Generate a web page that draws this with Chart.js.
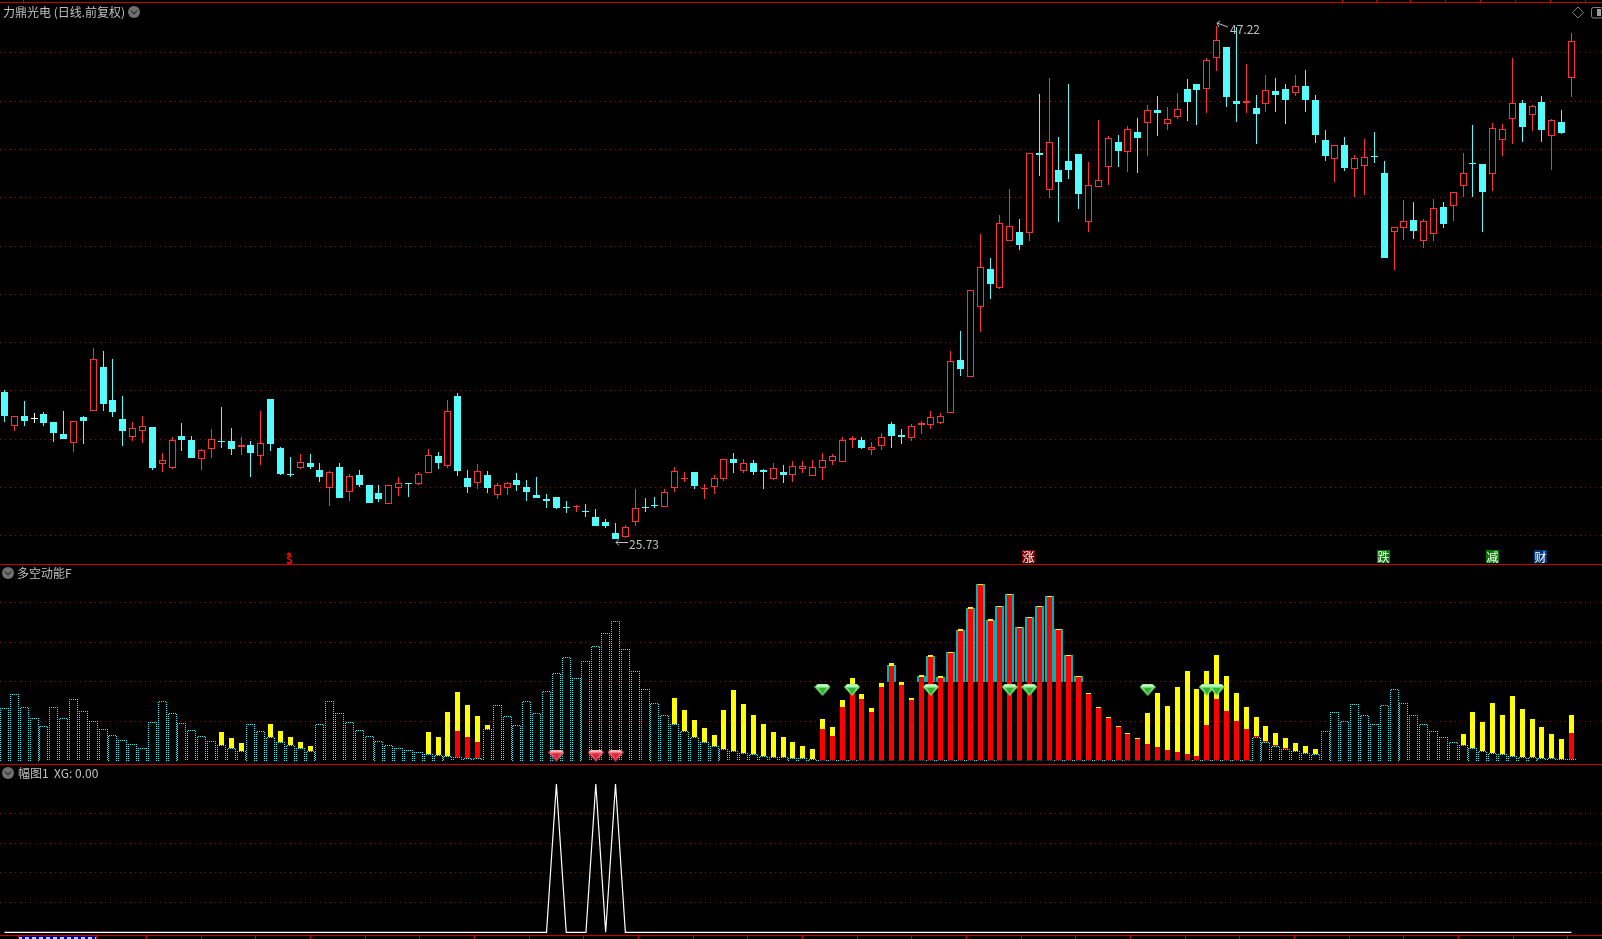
<!DOCTYPE html>
<html><head><meta charset="utf-8">
<script src="https://cdn.jsdelivr.net/npm/chart.js@4"></script>
<style>
html,body{margin:0;padding:0;background:#000;width:1602px;height:939px;overflow:hidden}
canvas{position:absolute;left:0;display:block}
.t{position:absolute;color:#c0c0c0;font:12px/14px "Noto Sans CJK SC",sans-serif;white-space:pre;z-index:3}
.sep{position:absolute;left:0;width:1602px;height:1px;background:#c80000;z-index:3}
.tick{position:absolute;width:1px;background:#c80000;z-index:3}
.tag{position:absolute;top:550px;width:13px;height:13px;color:#fff;font:12px/13px "Noto Sans CJK SC",sans-serif;text-align:center;z-index:3}
svg{position:absolute;z-index:3;overflow:visible}
</style></head><body>
<canvas id="priceCanvas" width="1602" height="564" style="top:0;width:1602px;height:564px"></canvas>
<canvas id="powerCanvas" width="1602" height="200" style="top:564px;width:1602px;height:200px"></canvas>
<canvas id="xgCanvas" width="1602" height="171" style="top:764px;width:1602px;height:171px"></canvas>
<div class="sep" style="top:2px"></div><div class="sep" style="top:564px"></div><div class="sep" style="top:764px"></div><div class="sep" style="top:935px"></div>

<div class="t" style="left:3px;top:5px">力鼎光电 (日线.前复权)</div>
<svg style="left:128px;top:6px" width="12" height="12"><circle cx="6" cy="6" r="6" fill="#707070"/><path d="M3 4.5L6 8L9 4.5" stroke="#111" fill="none"/></svg>
<div class="t" style="left:17px;top:566px">多空动能F</div>
<svg style="left:2px;top:567px" width="12" height="12"><circle cx="6" cy="6" r="6" fill="#707070"/><path d="M3 4.5L6 8L9 4.5" stroke="#111" fill="none"/></svg>
<div class="t" style="left:18px;top:766px">幅图1  XG: 0.00</div>
<svg style="left:2px;top:767px" width="12" height="12"><circle cx="6" cy="6" r="6" fill="#707070"/><path d="M3 4.5L6 8L9 4.5" stroke="#111" fill="none"/></svg>

<div class="t" style="left:1230px;top:22px">47.22</div>
<svg style="left:0;top:0" width="1" height="1"><path d="M1217 23L1228 27M1217 23L1220 21M1217 23L1219 27" stroke="#c0c0c0" fill="none"/><path d="M616 542.5H628M616 542.5L619 539.5M616 542.5L619 545.5" stroke="#c0c0c0" fill="none"/>
<path d="M1578 7L1583.5 12.5L1578 18L1572.5 12.5Z" stroke="#808080" fill="none"/>
<rect x="1591.5" y="7.5" width="11" height="10.5" rx="2" stroke="#808080" fill="none"/><rect x="1597" y="9" width="4" height="7" fill="#9a9a9a"/>
<path d="M289 552L292 555H286Z" fill="#ff0000"/></svg>
<div class="t" style="left:629px;top:537px">25.73</div>

<div class="tag" style="left:283px;top:552px;color:#f00;font-weight:700;background:none">$</div>
<div class="tag" style="left:1022px;background:#7a0000">涨</div>
<div class="tag" style="left:1377px;background:#007a00">跌</div>
<div class="tag" style="left:1486px;background:#007a00">减</div>
<div class="tag" style="left:1534px;background:#003a78">财</div>

<div style="position:absolute;left:18px;top:936px;width:78px;height:3px;background:repeating-linear-gradient(90deg,#c8c8e8 0 4px,#0000a0 4px 7px);border-top:1px solid #0000a0;box-sizing:border-box;z-index:3"></div>
<div id="ticks"></div>

<script>
const highVals=[31.99,30.90,31.53,31.02,31.07,30.65,31.11,30.69,30.90,33.75,33.63,33.29,31.74,30.65,30.90,30.44,29.34,30.02,30.60,30.06,
29.51,30.35,31.28,30.39,30.02,29.85,31.11,31.61,29.60,29.18,29.30,29.30,28.92,28.59,28.92,28.46,28.63,28.00,28.00,28.00,
28.34,28.08,28.55,29.51,29.39,31.57,31.86,28.63,28.88,28.59,28.08,28.13,28.50,28.21,28.34,27.62,27.50,27.33,27.16,27.20,
26.99,26.57,26.40,26.32,27.83,27.45,27.50,27.83,28.76,28.55,28.55,28.04,28.42,29.09,29.34,29.09,29.05,28.67,28.92,28.84,
29.01,29.01,29.05,29.34,29.30,30.02,30.06,30.02,29.81,30.18,30.65,30.35,30.56,30.69,31.11,31.02,33.63,34.47,36.19,38.54,
37.53,39.34,40.43,39.17,41.94,44.42,45.09,42.62,44.84,41.90,41.57,43.33,42.66,42.70,43.08,43.41,43.96,44.34,43.88,44.46,
45.05,44.84,45.93,47.28,46.40,47.24,45.68,44.38,45.22,45.09,44.84,45.22,45.43,44.38,42.91,42.28,42.62,41.86,42.53,42.83,
41.61,38.84,39.97,39.89,39.17,40.01,39.89,40.31,41.94,43.12,41.48,43.20,43.16,45.93,44.17,43.96,44.34,43.37,43.75,47.00];
const lowVals=[30.65,30.27,30.48,30.60,30.48,29.81,29.93,29.39,29.72,31.11,31.11,30.86,29.64,29.85,29.76,28.63,28.55,28.67,29.43,29.13,
28.63,29.13,29.55,29.26,29.26,28.34,28.84,29.43,28.42,28.34,28.67,28.67,28.13,27.12,27.45,27.33,27.92,27.24,27.29,27.20,
27.54,27.50,28.00,28.50,28.67,28.71,28.38,27.66,27.83,27.66,27.41,27.58,27.75,27.33,27.45,27.03,26.99,26.82,26.87,26.66,
26.28,26.19,25.73,25.77,26.28,26.87,27.03,27.08,27.71,28.13,27.83,27.41,27.62,28.17,28.50,28.50,28.42,27.83,28.21,28.08,
28.13,28.50,28.38,28.21,28.84,28.97,29.55,29.51,29.26,29.47,29.55,29.72,29.85,30.14,30.35,30.56,31.02,32.58,32.54,34.43,
35.81,36.23,38.25,37.87,38.25,40.98,40.05,39.05,40.85,39.59,38.63,40.52,40.60,41.36,41.15,41.10,41.82,42.66,42.91,43.37,
43.29,43.12,43.62,45.39,43.88,43.25,43.62,42.32,43.67,43.67,43.16,44.34,43.67,42.36,41.61,40.73,41.19,40.10,40.18,41.52,
37.53,37.03,38.29,38.33,37.95,38.25,38.79,39.09,40.10,40.10,38.63,40.35,41.82,42.32,42.41,42.87,42.41,41.23,42.74,44.30];
const openVals=[31.91,30.48,30.90,30.77,30.98,30.65,30.14,29.76,30.86,31.11,32.96,31.57,30.77,30.02,30.27,30.44,28.88,28.71,30.06,29.89,
29.09,29.51,29.85,29.85,29.60,29.68,29.22,31.61,29.55,28.46,28.71,28.92,28.63,27.87,28.76,27.71,28.42,28.00,27.66,27.20,
27.87,28.08,28.04,28.50,29.22,28.80,31.74,28.29,28.08,28.42,27.58,27.87,28.21,27.92,27.58,27.41,27.50,27.08,27.06,26.91,
26.66,26.45,25.98,25.82,26.45,27.08,27.16,27.08,27.87,28.25,28.55,27.82,27.92,28.25,29.09,28.59,28.92,28.63,28.25,28.55,
28.42,28.67,28.38,28.71,29.01,28.97,29.89,29.89,29.47,29.64,30.56,30.10,29.97,30.52,30.52,30.60,31.02,33.25,32.54,35.48,
37.07,36.27,38.25,38.63,38.58,41.94,40.39,41.23,41.61,41.90,39.05,40.52,41.36,42.41,41.99,42.83,43.20,43.75,43.16,43.46,
44.63,44.84,44.63,45.93,46.40,44.13,44.04,43.83,44.00,44.55,44.63,44.46,44.76,44.17,42.49,41.69,42.28,41.27,41.40,41.82,
41.10,38.63,38.79,39.13,38.25,38.54,39.68,39.72,40.56,41.52,41.48,41.06,42.49,43.37,44.04,43.54,44.09,42.66,43.25,45.11];
const closeVals=[30.90,30.90,30.69,30.77,30.60,30.18,29.93,30.69,30.69,33.29,31.40,31.07,30.27,30.39,30.48,28.71,29.05,29.89,29.89,29.13,
29.47,29.93,29.82,29.51,29.68,29.34,29.76,29.72,28.46,28.43,28.97,28.76,28.34,28.55,27.45,28.38,28.00,27.24,27.41,28.00,
28.08,28.06,28.46,29.26,28.92,31.11,28.59,27.92,28.59,27.87,28.00,28.08,28.00,27.71,27.45,27.33,27.03,27.05,27.10,26.88,
26.28,26.28,25.73,26.24,27.03,27.05,27.12,27.71,28.59,28.29,27.96,27.87,28.29,29.09,28.92,28.92,28.55,28.56,28.71,28.42,
28.80,28.80,28.76,29.05,29.22,29.89,29.97,29.55,29.60,30.02,30.06,30.02,30.48,30.60,30.86,30.90,33.21,32.87,36.19,37.16,
36.44,39.00,38.88,38.08,41.94,41.86,42.41,40.73,41.23,40.22,40.60,40.81,42.57,42.03,42.95,42.57,43.75,43.62,43.37,43.79,
44.09,44.59,45.85,46.69,44.30,44.00,44.13,43.58,44.59,44.38,44.17,44.76,44.17,42.70,41.82,42.28,41.31,41.73,41.78,41.79,
37.53,38.84,39.09,38.67,39.09,39.63,38.96,40.31,41.10,41.48,40.31,43.01,42.95,44.04,43.04,43.92,42.91,43.33,42.78,46.66];
const priceGridTicks=[46.16,44.10,42.09,40.07,38.02,36.00,33.98,31.97,29.91,27.89,25.88];

const outlineVals=[52.2,66.2,53.2,42.2,34.2,53.2,42.2,61.2,49.2,39.2,
31.2,25.2,20.2,16.2,12.2,38.2,59.2,47.2,37.2,30.2,
24.2,19.2,15.2,12.2,9.2,36.2,29.2,23.2,18.2,15.2,
12.2,9.2,36.2,59.2,47.2,38.2,30.2,24.2,19.2,15.2,
12.2,10.2,8.2,6.5,5.2,4.5,3.5,2.5,2.5,31.5,
55.2,44.5,35.5,59.5,47.5,69.5,87.5,103.5,82.5,99.5,
114.5,127.5,139.5,111.5,89.5,71.5,57.5,45.5,36.5,29.5,
23.5,18.5,14.5,11.5,9.5,7.5,6.5,4.5,3.5,3.5,
2.5,2.5,1.5,1,1,1,1,1,1,1,
1,1,1,1,1,1,1,1,1,1,
1,1,1,1,1,1,1,1,1,1,
1,1,1,1,1,1,1,1,1,1,
1,1,1,1,1,1,1,23.5,18.5,14.5,
11.5,9.5,7.5,6.5,29.5,48.5,39.5,56.5,45.5,36.5,
55.5,71.5,57.5,45.5,36.5,29.5,23.5,18.5,15.5,12.5,
9.5,7.5,6.5,4.5,3.5,3.5,2.5,2.5,1.5,1.5];
const yellowVals=[0,0,0,0,0,0,0,0,0,0,
0,0,0,0,0,0,0,0,0,0,
0,0,28.5,22.5,17.5,0,0,36.5,29.5,23.5,
18.5,14.5,0,0,0,0,0,0,0,0,
0,0,0,28.5,23.5,48.5,68.5,55.5,44.5,35.5,
0,0,0,0,0,0,0,0,0,0,
0,0,0,0,0,0,0,0,62.5,50.5,
40.5,32.5,25.5,50.5,70.5,56.5,45.5,36.5,28.5,23.5,
18.5,14.5,11.5,41.5,33.5,60.5,82.5,66.5,52.5,77.5,
97.5,78.5,62.5,85.5,105.5,84.5,108.5,131.5,153.5,176.5,
141.5,154.5,166.5,133.5,143.5,154.5,164.5,131.5,105.5,84.5,
67.5,53.5,43.5,34.5,27.5,22.5,47.5,67.5,54.5,73.5,
89.5,71.5,89.5,105.5,84.5,67.5,53.5,43.5,34.5,27.5,
22.5,17.5,14.5,11.5,0,0,0,0,0,0,
0,0,0,0,0,0,0,0,26.5,48.5,
38.5,57.5,45.5,64.5,51.5,41.5,33.5,26.5,21.5,45.5];
const redVals=[0,0,0,0,0,0,0,0,0,0,
0,0,0,0,0,0,0,0,0,0,
0,0,0,0,0,0,0,0,0,0,
0,0,0,0,0,0,0,0,0,0,
0,0,0,0,0,0,29.5,23.5,18.5,0,
0,0,0,0,0,0,0,0,0,0,
0,0,0,0,0,0,0,0,0,0,
0,0,0,0,0,0,0,0,0,0,
0,0,0,31.5,24.5,53.5,75.5,61.5,48.5,73.5,
94.5,75.5,60.5,83.5,103.5,82.5,107.5,129.5,151.5,175.5,
139.5,153.5,165.5,132.5,142.5,153.5,163.5,130.5,104.5,83.5,
66.5,52.5,42.5,33.5,26.5,21.5,16.5,13.5,10.5,8.5,
6.5,4.5,35.5,61.5,49.5,39.5,31.5,24.5,19.5,15.5,
12.5,0,0,0,0,0,0,0,0,0,
0,0,0,0,0,0,0,0,0,0,
0,0,0,0,0,0,0,0,0,27.5];
const tealIdx=[90,93,94,95,96,97,98,99,100,101,102,103,104,105,106,107,108,109];
const tealTop=[95.5,84.5,104.5,83.5,108.5,130.5,152.5,176.5,140.5,154.5,166.5,133.5,143.5,154.5,164.5,131.5,105.5,84.5];
const tealBase=79;
const greenGemIdx=[83,86,94,102,104,116,122,123];
const greenGemLevel=70.5;
const redGemIdx=[56,60,62];
const redGemLevel=5;
const powerGridTicks=[158.2,118.2,79.2,39.2];

const xgHits=[56,60,62];
const xgVals=highVals.map((_,i)=>xgHits.includes(i)?1:0);
const xgGridTicks=[0.2,0.4,0.6,0.8];

const X_MIN=-0.4566, X_MAX=162.1;
const UP='#ff3232', DOWN='#54fcfc', DOJI='#ffffff';
const idx=highVals.map((_,i)=>i);
const candleColor=idx.map(i=>closeVals[i]>openVals[i]?UP:closeVals[i]<openVals[i]?DOWN:DOJI);
const bodyFill=idx.map(i=>closeVals[i]>openVals[i]?'#000000':candleColor[i]);

// crisp pixels like the original: snap bars computed by the scales to whole pixels
const snap={id:'snap',beforeDatasetsDraw(c){
  c.getSortedVisibleDatasetMetas().forEach(m=>{
    if(m.type!=='bar')return;
    m.data.forEach(el=>{
      el.x=Math.floor(el.x)+0.5;
      let a=Math.round(el.y),b=Math.round(el.base);
      if(a===b)a=b-1;
      el.y=a;el.base=b;
    });
  });
}};
function axes(min,max,ticks){return{
  x:{type:'linear',display:false,min:X_MIN,max:X_MAX,offset:false},
  y:{type:'linear',min,max,position:'left',
     afterBuildTicks(s){s.ticks=ticks.map(v=>({value:v}));},
     ticks:{display:false},
     grid:{color:'#a00000',lineWidth:1,drawTicks:false},
     border:{display:false,dash:[1,4]}}
};}
const base={responsive:false,animation:false,devicePixelRatio:1,
  layout:{padding:0,autoPadding:false},plugins:{legend:{display:false},tooltip:{enabled:false}},
  elements:{bar:{inflateAmount:0,borderSkipped:false}},events:[]};

new Chart(document.getElementById('priceCanvas'),{type:'bar',plugins:[snap],
 data:{datasets:[
  {label:'实体',order:1,grouped:false,barThickness:7,borderWidth:1,
   data:idx.map(i=>({x:i,y:[openVals[i],closeVals[i]]})),
   backgroundColor:bodyFill,borderColor:candleColor},
  {label:'影线',order:2,grouped:false,barThickness:1,borderWidth:0,
   data:idx.map(i=>({x:i,y:[lowVals[i],highVals[i]]})),
   backgroundColor:candleColor}
 ]},
 options:{...base,scales:axes(24.68,48.37,priceGridTicks)}});

function dottedPattern(ctx){
  const p=document.createElement('canvas');p.width=2;p.height=2;
  const g=p.getContext('2d');g.fillStyle='#000';g.fillRect(0,0,2,2);
  g.fillStyle='#00ffff';g.fillRect(0,0,1,1);g.fillRect(1,1,1,1);
  return ctx.createPattern(p,'repeat');
}
function gem(light,mid,dark){
  const c=document.createElement('canvas');c.width=16;c.height=12;
  const g=c.getContext('2d');
  g.fillStyle=mid;g.beginPath();g.moveTo(3,0);g.lineTo(13,0);g.lineTo(16,3);g.lineTo(8,12);g.lineTo(0,3);g.closePath();g.fill();
  g.fillStyle=light;g.beginPath();g.moveTo(3,0.5);g.lineTo(13,0.5);g.lineTo(15,3);g.lineTo(11,2.5);g.lineTo(5,2.5);g.lineTo(1,3);g.closePath();g.fill();
  g.fillStyle=dark;g.beginPath();g.moveTo(4,4);g.lineTo(12,4);g.lineTo(8,10.5);g.closePath();g.fill();
  return c;
}
const powerCanvas=document.getElementById('powerCanvas');
const pick=(arr)=>idx.filter(i=>arr[i]>0).map(i=>({x:i,y:[0,arr[i]]}));
new Chart(powerCanvas,{type:'bar',plugins:[snap],
 data:{datasets:[
  {type:'scatter',label:'绿钻',order:0,pointStyle:gem('#d6ffd6','#70e070','#35b035'),pointRadius:8,showLine:false,
   data:greenGemIdx.map(i=>({x:i,y:greenGemLevel}))},
  {type:'scatter',label:'红钻',order:0,pointStyle:gem('#ffc8c8','#f05a6a','#d82838'),pointRadius:8,showLine:false,
   data:redGemIdx.map(i=>({x:i,y:redGemLevel}))},
  {label:'空',order:1,grouped:false,barThickness:9,borderWidth:{left:1,right:1,top:1,bottom:0},
   data:idx.map(i=>({x:i,y:[0,outlineVals[i]]})),
   backgroundColor:'#000',borderColor:dottedPattern(powerCanvas.getContext('2d'))},
  {label:'红',order:2,grouped:false,barThickness:5,borderWidth:0,data:pick(redVals),backgroundColor:'#ff0000'},
  {label:'黄',order:3,grouped:false,barThickness:5,borderWidth:0,data:pick(yellowVals),backgroundColor:'#ffff00'},
  {label:'青',order:4,grouped:false,barThickness:9,borderWidth:0,
   data:tealIdx.map((i,k)=>({x:i,y:[tealBase,tealTop[k]]})),backgroundColor:'#00b4b4'}
 ]},
 options:{...base,scales:axes(-3.5,196.5,powerGridTicks)}});

new Chart(document.getElementById('xgCanvas'),{type:'line',
 data:{datasets:[{label:'XG',data:idx.map(i=>({x:i,y:xgVals[i]})),borderColor:'#ffffff',borderWidth:1.2,pointRadius:0,tension:0}]},
 options:{...base,scales:axes(-0.0182,1.1349,xgGridTicks)}});

// small marks on the frame lines
const topMarks=[23,1342,1376,1410,1445,1480,1515,1550,1585];
const bottomMarks=[18,96,146,201,255,310,365,419,474,529,583,638,693,747,802,857,911,966,1021,1075,1130,1185,1239,1294,1349,1403,1458,1513,1567];
const host=document.getElementById('ticks');
topMarks.forEach(x=>{const d=document.createElement('div');d.className='tick';d.style.cssText=`left:${x}px;top:0;height:2px`;host.appendChild(d);});
bottomMarks.forEach(x=>{const d=document.createElement('div');d.className='tick';d.style.cssText=`left:${x}px;top:936px;height:3px`;host.appendChild(d);});
</script>
</body></html>
